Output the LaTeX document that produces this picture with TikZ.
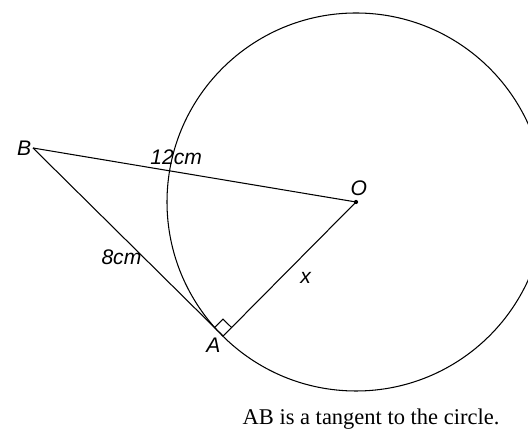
\documentclass[tikz,border=0pt]{standalone}
\usepackage{fontspec}
\setmainfont{Liberation Serif}
\newfontfamily\lblfont{Liberation Sans}
\usetikzlibrary{calc,positioning}

\begin{document}
\begin{tikzpicture}[
  seg/.style={draw=black, line width=0.75pt},
  lbl/.style={font=\lblfont\itshape\fontsize{15}{17}\selectfont, inner sep=1pt},
  dot/.style={circle, fill=black, inner sep=0pt, minimum size=3pt},
]
\useasboundingbox (0,0) rectangle (13.2,10.75);
\clip (0,0) rectangle (13.2,10.75);
\coordinate (O) at (8.9,5.7);
\coordinate (B) at (0.825,7.05);
\coordinate (A) at (5.578,2.348);
\node[dot] (Odot) at (O) {};
\draw[seg] (O) circle (4.725);
\draw[seg] (B) -- node[lbl, pos=0.443, above=4pt] {12cm} (O);
\draw[seg] (B) -- node[lbl, pos=0.58, left=0pt] {8cm} (A);
\draw[seg] (O) -- node[lbl, pos=0.57, right=13pt] {x} (A);
% right angle at A
\coordinate (u) at ($(A)!0.3cm!(B)$);
\coordinate (v) at ($(A)!0.3cm!(O)$);
\draw[seg] (u) -- ($(u)+(v)-(A)$) -- (v);
\node[lbl, left=0pt] (Blbl) at (B) {B};
\node[lbl, above=3pt, xshift=2pt] (Olbl) at (O) {O};
\node[lbl, anchor=north, xshift=-7pt] (Albl) at (A) {A};
\node[font=\fontsize{16}{18}\selectfont] (cap) at (9.275,0.28) {AB is a tangent to the circle.};
\end{tikzpicture}
\end{document}
